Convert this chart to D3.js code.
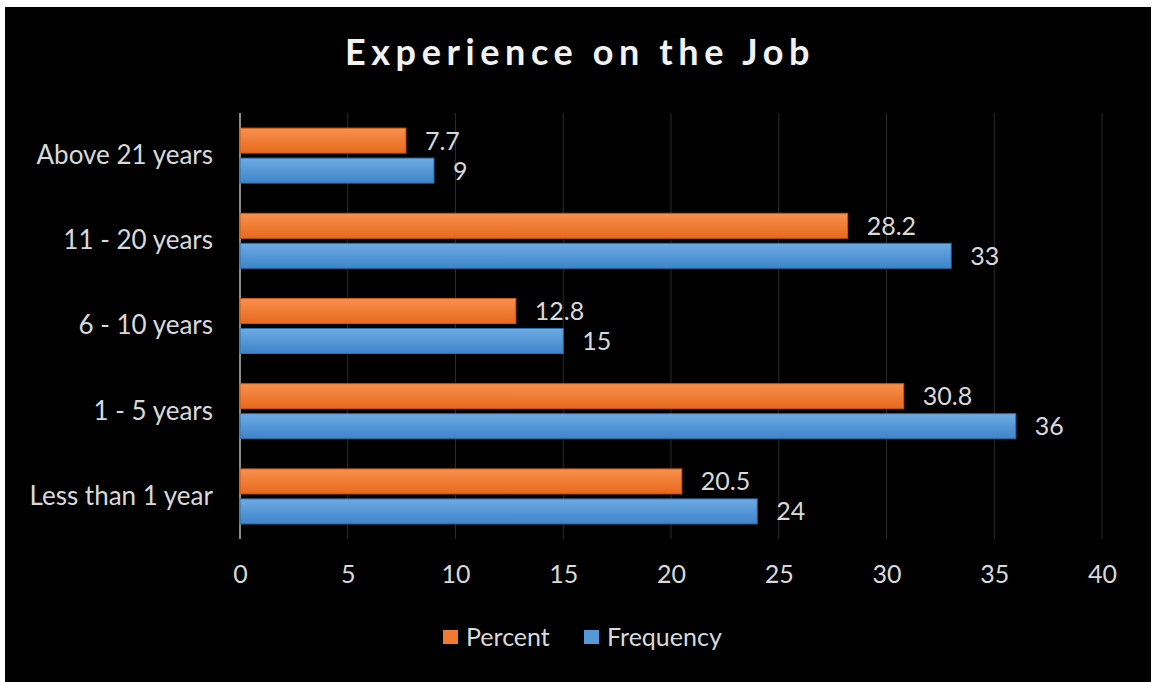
<!DOCTYPE html>
<html>
<head>
<meta charset="utf-8">
<script src="https://cdn.jsdelivr.net/npm/d3@7"></script>
<style>
  html, body { margin: 0; padding: 0; background: #fff; }
  svg { display: block; }
  text { font-family: Lato, "Open Sans", sans-serif; }
</style>
</head>
<body>
<div id="chart"></div>
<script>
// data (top to bottom as drawn)
var categories = ["Above 21 years", "11 - 20 years", "6 - 10 years", "1 - 5 years", "Less than 1 year"];
var percent = [7.7, 28.2, 12.8, 30.8, 20.5];
var frequency = [9, 33, 15, 36, 24];
var seriesNames = ["Percent", "Frequency"];
var xTicks = [0, 5, 10, 15, 20, 25, 30, 35, 40];

var width = 1154, height = 682;
var margin = { top: 113, right: 52, bottom: 143, left: 240 };

var svg = d3.select('#chart').append('svg')
  .attr('width', width)
  .attr('height', height);

// gradients
var defs = svg.append('defs');
function grad(id, c1, c2) {
  var g = defs.append('linearGradient').attr('id', id)
    .attr('x1', 0).attr('y1', 0).attr('x2', 0).attr('y2', 1);
  g.append('stop').attr('offset', '0%').attr('stop-color', c1);
  g.append('stop').attr('offset', '100%').attr('stop-color', c2);
}
grad('gOrange', '#f7914f', '#e8691c');
grad('gBlue', '#6eabe3', '#3e84ca');

svg.append('rect')
  .attr('x', 5).attr('y', 7)
  .attr('width', 1146).attr('height', 675)
  .attr('fill', '#000');

var x = d3.scaleLinear().domain([0, 40]).range([margin.left, 1102]);
var y = d3.scaleBand().domain(categories).range([margin.top, 539]).paddingInner(0).paddingOuter(0);

// gridlines
svg.append('g').selectAll('line')
  .data(xTicks.slice(1))
  .enter().append('line')
  .attr('x1', function(d){ return x(d); })
  .attr('x2', function(d){ return x(d); })
  .attr('y1', margin.top)
  .attr('y2', 539)
  .attr('stroke', '#2b2b2b')
  .attr('stroke-width', 1);

// value axis labels
var xAxis = d3.axisBottom(x).tickValues(xTicks).tickSize(0).tickPadding(0);
var axisX = svg.append('g')
  .attr('transform', 'translate(0,' + 583 + ')')
  .call(xAxis);
axisX.select('.domain').remove();
axisX.selectAll('text')
  .attr('fill', '#d9d9d9')
  .attr('font-size', 25)
  .attr('dy', 0);

// category axis
var yAxis = d3.axisLeft(y).tickSize(0).tickPadding(27);
var axisY = svg.append('g')
  .attr('transform', 'translate(' + margin.left + ',0)')
  .call(yAxis);
axisY.select('.domain').remove();
axisY.selectAll('text')
  .attr('fill', '#d9d9d9')
  .attr('font-size', 26);

svg.append('line')
  .attr('x1', x(0)).attr('x2', x(0))
  .attr('y1', margin.top).attr('y2', 539)
  .attr('stroke', '#8c8c8c')
  .attr('stroke-width', 2);

// bars
var barH = 25, gap = 5;
var rows = categories.map(function(c, i){ return { cat: c, p: percent[i], f: frequency[i] }; });
var groupOff = (y.bandwidth() - (barH * 2 + gap)) / 2;

var g = svg.append('g');
var series = [
  { key: 'p', fill: 'url(#gOrange)', stroke: '#c45a17', off: 0 },
  { key: 'f', fill: 'url(#gBlue)', stroke: '#2f6ea8', off: barH + gap }
];
series.forEach(function(s) {
  g.selectAll('.bar-' + s.key)
    .data(rows)
    .enter().append('rect')
    .attr('class', 'bar-' + s.key)
    .attr('x', x(0))
    .attr('y', function(d){ return y(d.cat) + groupOff + s.off; })
    .attr('width', function(d){ return x(d[s.key]) - x(0); })
    .attr('height', barH)
    .attr('fill', s.fill)
    .attr('stroke', s.stroke)
    .attr('stroke-width', 1);

  g.selectAll('.lab-' + s.key)
    .data(rows)
    .enter().append('text')
    .attr('x', function(d){ return x(d[s.key]) + 19; })
    .attr('y', function(d){ return y(d.cat) + groupOff + s.off + barH / 2; })
    .attr('dy', '0.36em')
    .attr('fill', '#d9d9d9')
    .attr('font-size', 25)
    .text(function(d){ return d[s.key]; });
});

// title
svg.append('text')
  .attr('x', 580).attr('y', 65)
  .attr('text-anchor', 'middle')
  .attr('fill', '#f2f2f2')
  .attr('font-size', 36)
  .attr('font-weight', 'bold')
  .attr('letter-spacing', 5.6)
  .text('Experience on the Job');

// legend
var legendX = [443, 584];
var legendFill = ['#f07a2f', '#5599d9'];
var legend = svg.append('g');
seriesNames.forEach(function(n, i) {
  legend.append('rect')
    .attr('x', legendX[i]).attr('y', 630)
    .attr('width', 15).attr('height', 14)
    .attr('fill', legendFill[i]);
  legend.append('text')
    .attr('x', legendX[i] + 23).attr('y', 637)
    .attr('dy', '0.36em')
    .attr('fill', '#d9d9d9')
    .attr('font-size', 25)
    .text(n);
});
</script>
</body>
</html>
